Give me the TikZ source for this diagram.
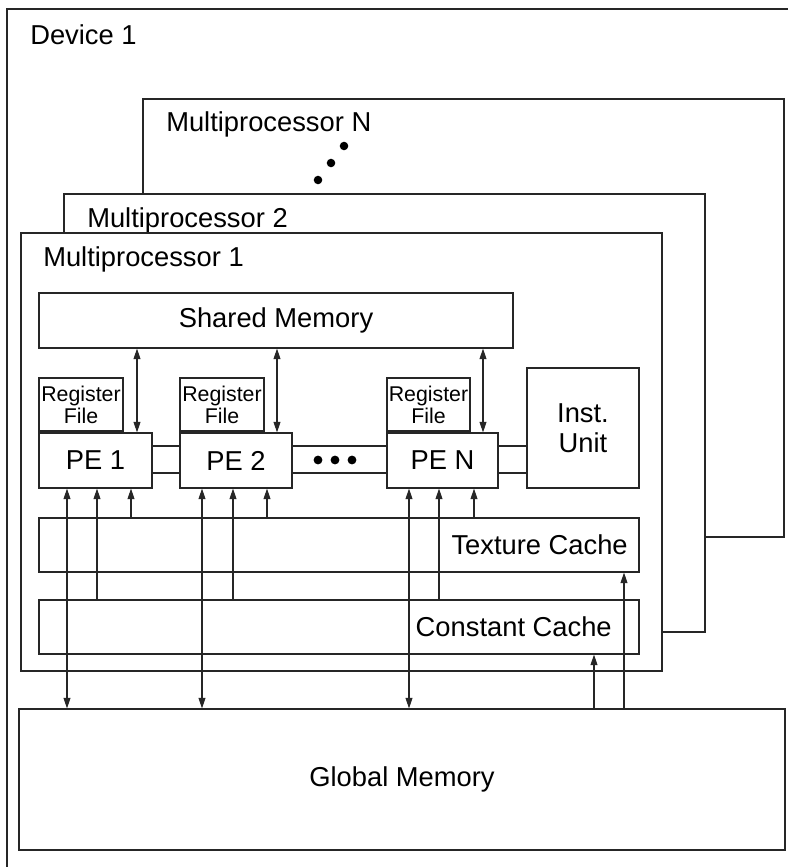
\documentclass[tikz,border=0pt]{standalone}
\usepackage{fontspec}
\setmainfont{Liberation Sans}
\usetikzlibrary{arrows.meta,fit}
\begin{document}
\begin{tikzpicture}[x=0.75pt,y=-0.75pt,
  box/.style={draw=black!85, line width=0.8pt, fill=white, inner sep=0pt},
  lbl/.style={font=\fontsize{20.5}{22.5}\selectfont, inner sep=0pt, align=center},
  small/.style={font=\fontsize{16}{16.5}\selectfont, inner sep=0pt, align=center},
  conn/.style={draw=black!85, line width=0.8pt},
  tip/.style={conn, -{Triangle[length=8pt,width=5.2pt]}},
  dtip/.style={conn, {Triangle[length=8pt,width=5.2pt]}-{Triangle[length=8pt,width=5.2pt]}},
  dot/.style={circle, fill=black, inner sep=0pt, minimum size=6.4pt}
]
\useasboundingbox (0,0) rectangle (788,867);
\begin{scope}
\clip (0,0) rectangle (788,867);
\node[box, fit={(7,9) (820,900)}] (dev) {};
\end{scope}
\node[lbl, anchor=base west] (devl) at (30,45) {Device 1};

% multiprocessors
\node[box, fit={(143,99) (784,537)}] (mpn) {};
\node[lbl, anchor=base west] (mpnl) at (166,131) {Multiprocessor N};
\node[dot] (d1) at (344,146) {};
\node[dot] (d2) at (331,163) {};
\node[dot] (d3) at (318,180) {};
\node[box, fit={(64,194) (705,632)}] (mp2) {};
\node[lbl, anchor=base west] (mp2l) at (87,227) {Multiprocessor 2};
\node[box, fit={(21,233) (662,671)}] (mp1) {};
\node[lbl, anchor=base west] (mp1l) at (43,266) {Multiprocessor 1};

% inner blocks
\node[box, fit={(39,293) (513,348)}] (sm) {};
\node[lbl] at (sm.center) {Shared Memory};

\node[box, fit={(39,378) (123,431)}] (rf1) {};
\node[small] at (rf1.center) {Register\\File};
\node[box, fit={(180,378) (264,431)}] (rf2) {};
\node[small] at (rf2.center) {Register\\File};
\node[box, fit={(387,378) (470,431)}] (rfn) {};
\node[small] at (rfn.center) {Register\\File};

\node[box, fit={(39,433) (152,488)}] (pe1) {};
\node[lbl] at (pe1.center) {PE 1};
\node[box, fit={(180,433) (292,488)}] (pe2) {};
\node[lbl] at (pe2.center) {PE 2};
\node[box, fit={(387,433) (498,488)}] (pen) {};
\node[lbl] at (pen.center) {PE N};
\node[box, fit={(527,368) (639,488)}] (iu) {};
\node[lbl] at (iu.center) {Inst.\\Unit};

\node[box, fit={(39,518) (639,572)}] (tc) {};
\node[lbl, anchor=base east] at (628,554) {Texture Cache};
\node[box, fit={(39,600) (639,654)}] (cc) {};
\node[lbl, anchor=base east] at (612,636) {Constant Cache};

\node[box, fit={(19,709) (785,850)}] (gm) {};
\node[lbl] at (gm.center) {Global Memory};

% PE interconnect bars
\coordinate (h1) at (0,446);
\coordinate (h2) at (0,473);
\foreach \a/\b in {pe1/pe2, pe2/pen, pen/iu}{
  \draw[conn] (\a.east |- h1) -- (\b.west |- h1);
  \draw[conn] (\a.east |- h2) -- (\b.west |- h2);
}
\node[dot, minimum size=6.6pt] (e1) at (318,460) {};
\node[dot, minimum size=6.6pt] (e2) at (335,460) {};
\node[dot, minimum size=6.6pt] (e3) at (352,460) {};

% shared memory <-> PE
\coordinate (s1) at (137,0);
\coordinate (s2) at (277,0);
\coordinate (s3) at (483,0);
\draw[dtip] (sm.south -| s1) -- (pe1.north -| s1);
\draw[dtip] (sm.south -| s2) -- (pe2.north -| s2);
\draw[dtip] (sm.south -| s3) -- (pen.north -| s3);

% texture cache -> PE
\coordinate (t1) at (131,0);
\coordinate (t2) at (267,0);
\coordinate (t3) at (474,0);
\draw[tip] (tc.north -| t1) -- (pe1.south -| t1);
\draw[tip] (tc.north -| t2) -- (pe2.south -| t2);
\draw[tip] (tc.north -| t3) -- (pen.south -| t3);

% constant cache -> PE
\coordinate (c1) at (97,0);
\coordinate (c2) at (233,0);
\coordinate (c3) at (439,0);
\draw[tip] (cc.north -| c1) -- (pe1.south -| c1);
\draw[tip] (cc.north -| c2) -- (pe2.south -| c2);
\draw[tip] (cc.north -| c3) -- (pen.south -| c3);

% global memory <-> PE
\coordinate (g1) at (67,0);
\coordinate (g2) at (202,0);
\coordinate (g3) at (409,0);
\draw[dtip] (gm.north -| g1) -- (pe1.south -| g1);
\draw[dtip] (gm.north -| g2) -- (pe2.south -| g2);
\draw[dtip] (gm.north -| g3) -- (pen.south -| g3);

% global memory -> caches
\coordinate (k1) at (594,0);
\coordinate (k2) at (624,0);
\draw[tip] (gm.north -| k1) -- (cc.south -| k1);
\draw[tip] (gm.north -| k2) -- (tc.south -| k2);
\end{tikzpicture}
\end{document}
